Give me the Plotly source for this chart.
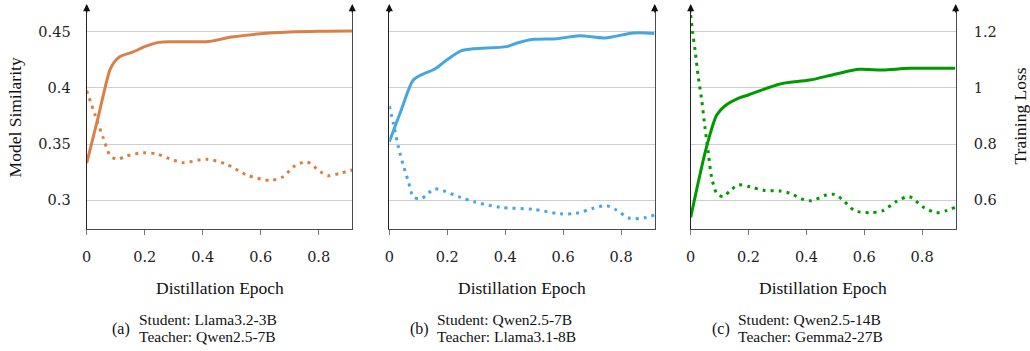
import plotly.graph_objects as go

# ---------------- data ----------------
x_ticks = [0, 0.2, 0.4, 0.6, 0.8]
x_tick_text = ["0", "0.2", "0.4", "0.6", "0.8"]
sim_ticks = [0.3, 0.35, 0.4, 0.45]
sim_tick_text = ["0.3", "0.35", "0.4", "0.45"]
loss_ticks = [0.6, 0.8, 1.0, 1.2]
loss_tick_text = ["0.6", "0.8", "1", "1.2"]

captions = [("(a)", "Student: Llama3.2-3B", "Teacher: Qwen2.5-7B"),
            ("(b)", "Student: Qwen2.5-7B", "Teacher: Llama3.1-8B"),
            ("(c)", "Student: Qwen2.5-14B", "Teacher: Gemma2-27B")]

sim1_x = [0, 0.04, 0.08, 0.095, 0.115, 0.16, 0.2, 0.25, 0.3, 0.39, 0.42, 0.5, 0.6, 0.7, 0.8, 0.916]
sim1_y = [0.333, 0.3745, 0.416, 0.423, 0.428, 0.432, 0.4367, 0.4405, 0.441, 0.441, 0.4412, 0.4452, 0.4482, 0.4497, 0.4504, 0.4506]
loss1_x = [0, 0.029, 0.0575, 0.08, 0.103, 0.137, 0.195, 0.241, 0.299, 0.333, 0.414, 0.483, 0.552, 0.632,
           0.678, 0.713, 0.759, 0.805, 0.833, 0.873, 0.916]
loss1_y = [0.990, 0.9035, 0.8206, 0.761, 0.746, 0.7576, 0.7694, 0.7647, 0.743, 0.734, 0.746, 0.728, 0.690, 0.671,
           0.684, 0.7195, 0.737, 0.702, 0.6875, 0.696, 0.708]

sim2_x = [0, 0.04, 0.083, 0.117, 0.157, 0.198, 0.249, 0.29, 0.405, 0.439, 0.497, 0.577, 0.657, 0.744, 0.841, 0.915]
sim2_y = [0.352, 0.3795, 0.407, 0.4124, 0.4168, 0.4248, 0.4331, 0.4349, 0.4367, 0.4397, 0.4432, 0.4438, 0.4464, 0.4444, 0.4488, 0.4485]
loss2_x = [0, 0.014, 0.031, 0.048, 0.066, 0.083, 0.109, 0.134, 0.157, 0.186, 0.244, 0.295, 0.382, 0.497,
           0.589, 0.646, 0.703, 0.749, 0.784, 0.83, 0.887, 0.915]
loss2_y = [0.9356, 0.874, 0.791, 0.7256, 0.666, 0.6128, 0.6045, 0.625, 0.641, 0.634, 0.611, 0.594, 0.575, 0.568,
           0.552, 0.5536, 0.5715, 0.581, 0.5654, 0.536, 0.539, 0.5476]

sim3_x = [0, 0.055, 0.09, 0.118, 0.17, 0.199, 0.262, 0.32, 0.411, 0.503, 0.584, 0.664, 0.756, 0.914]
sim3_y = [0.2848, 0.3477, 0.3759, 0.3839, 0.3913, 0.3937, 0.3996, 0.4041, 0.407, 0.4124, 0.4165, 0.4159, 0.4174, 0.4174]
loss3_x = [0, 0.007, 0.015, 0.026, 0.038, 0.049, 0.061, 0.072, 0.09, 0.113, 0.136, 0.164, 0.205, 0.251, 0.308,
           0.343, 0.389, 0.417, 0.469, 0.498, 0.526, 0.567, 0.618, 0.664, 0.71, 0.756, 0.802, 0.848, 0.883, 0.914]
loss3_y = [1.259, 1.194, 1.135, 1.04, 0.957, 0.862, 0.767, 0.684, 0.625, 0.613, 0.634, 0.6545, 0.648, 0.636, 0.633,
           0.625, 0.603, 0.5985, 0.619, 0.621, 0.601, 0.563, 0.556, 0.563, 0.595, 0.613, 0.577, 0.556, 0.563, 0.575]

colors = ["#DA8046", "#47A6E0", "#009A00"]

panels = [(sim1_x, sim1_y, loss1_x, loss1_y),
          (sim2_x, sim2_y, loss2_x, loss2_y),
          (sim3_x, sim3_y, loss3_x, loss3_y)]

# ---------------- layout geometry ----------------
W, H = 1030, 351
x_domains = [[86.7 / W, 352.3 / W], [389.3 / W, 654.7 / W], [690.7 / W, 955.7 / W]]
y_domain = [1 - 228.7 / H, 1 - 6 / H]
x_range = [0, 0.916]
sim_range = [0.27473, 0.47287]
loss_range = [0.4989, 1.2915]

TICK_FONT = dict(family="DejaVu Serif", size=14.5, color="#222222")
TEXT_FONT = "Liberation Serif"
AXIS_COLOR = "#4a4a4a"

fig = go.Figure()
layout = dict(width=W, height=H, margin=dict(l=0, r=0, t=0, b=0, autoexpand=False),
              paper_bgcolor="white", plot_bgcolor="white", showlegend=False)
annotations = []

for i, (sx, sy, lx, ly) in enumerate(panels):
    n = i + 1
    xa = "x" if n == 1 else f"x{n}"
    ya_l = 2 * n - 1
    ya_r = 2 * n
    yl = "y" if ya_l == 1 else f"y{ya_l}"
    yr = f"y{ya_r}"
    fig.add_trace(go.Scatter(x=sx, y=sy, xaxis=xa, yaxis=yl, mode="lines",
                             line=dict(color=colors[i], width=3, shape="spline", smoothing=0.8),
                             name=captions[i][1] + " similarity", hoverinfo="skip"))
    fig.add_trace(go.Scatter(x=lx, y=ly, xaxis=xa, yaxis=yr, mode="lines",
                             line=dict(color=colors[i], width=3, shape="spline", smoothing=0.8, dash="3px,5px"),
                             name=captions[i][1] + " loss", hoverinfo="skip"))

    xkey = "xaxis" if n == 1 else f"xaxis{n}"
    layout[xkey] = dict(domain=x_domains[i], range=x_range, anchor=yl, automargin=False,
                        tickvals=x_ticks, ticktext=x_tick_text, ticks="outside", ticklen=5,
                        tickcolor="#777777", tickwidth=1, showgrid=False, zeroline=False,
                        showline=True, linecolor=AXIS_COLOR, linewidth=1.3,
                        tickfont=TICK_FONT, ticklabelstandoff=10, fixedrange=True)
    # companion axis that draws the upper half of the crossing tick marks
    layout[f"xaxis{n + 3}"] = dict(domain=x_domains[i], range=x_range, anchor=yl, overlaying=xa,
                                   side="bottom", automargin=False, tickvals=x_ticks, ticks="inside",
                                   ticklen=4, tickcolor="#777777", tickwidth=1, showticklabels=False,
                                   showgrid=False, zeroline=False, showline=False, fixedrange=True)
    ylkey = "yaxis" if ya_l == 1 else f"yaxis{ya_l}"
    layout[ylkey] = dict(domain=y_domain, range=sim_range, anchor=xa, automargin=False,
                         tickvals=sim_ticks, ticktext=sim_tick_text, ticks="",
                         showticklabels=(n == 1), showgrid=True, gridcolor="#cfcfcf", gridwidth=1.2,
                         zeroline=False, showline=True, linecolor="#222222", linewidth=1.3,
                         tickfont=TICK_FONT, ticklabelstandoff=12, fixedrange=True)
    layout[f"yaxis{ya_r}"] = dict(range=loss_range, anchor=xa, overlaying=yl, side="right", automargin=False,
                                  tickvals=loss_ticks, ticktext=loss_tick_text, ticks="",
                                  showticklabels=(n == 3), showgrid=False, zeroline=False,
                                  showline=True, linecolor=AXIS_COLOR, linewidth=1.3,
                                  tickfont=TICK_FONT, ticklabelstandoff=14, fixedrange=True)

    # arrow heads on top of both vertical axes
    for xd in (0, 1):
        annotations.append(dict(xref=f"{xa} domain", yref=f"{yl} domain", x=xd, y=1, yshift=2,
                                ax=0, ay=10, text="", showarrow=True, arrowhead=2, arrowsize=1.1,
                                arrowwidth=1.3, arrowcolor="#111111"))

    cx = (x_domains[i][0] + x_domains[i][1]) / 2
    annotations.append(dict(xref="paper", yref="paper", x=cx, y=1 - 288.3 / H, text="Distillation Epoch",
                            showarrow=False, xanchor="center", yanchor="middle",
                            font=dict(family=TEXT_FONT, size=17.5, color="#111111")))

# captions
cap_letter_x = [110, 408, 710]
cap_text_x = [137, 435, 736]
for i, (lab, s1, s2) in enumerate(captions):
    annotations.append(dict(xref="paper", yref="paper", x=cap_letter_x[i] / W, y=1 - 329.3 / H, text=lab,
                            showarrow=False, xanchor="left", yanchor="middle",
                            font=dict(family=TEXT_FONT, size=16, color="#111111")))
    annotations.append(dict(xref="paper", yref="paper", x=cap_text_x[i] / W, y=1 - 319.3 / H, text=s1,
                            showarrow=False, xanchor="left", yanchor="middle",
                            font=dict(family=TEXT_FONT, size=15.5, color="#111111")))
    annotations.append(dict(xref="paper", yref="paper", x=cap_text_x[i] / W, y=1 - 336.9 / H, text=s2,
                            showarrow=False, xanchor="left", yanchor="middle",
                            font=dict(family=TEXT_FONT, size=15.5, color="#111111")))

annotations.append(dict(xref="paper", yref="paper", x=15 / W, y=1 - 117.4 / H, text="Model Similarity",
                        textangle=-90, showarrow=False, xanchor="center", yanchor="middle",
                        font=dict(family=TEXT_FONT, size=17.5, color="#111111")))
annotations.append(dict(xref="paper", yref="paper", x=1019 / W, y=1 - 116.5 / H, text="Training Loss",
                        textangle=-90, showarrow=False, xanchor="center", yanchor="middle",
                        font=dict(family=TEXT_FONT, size=17.5, color="#111111")))

layout["annotations"] = annotations
fig.update_layout(**layout)
fig.write_html("out.html", config={"displayModeBar": False})
